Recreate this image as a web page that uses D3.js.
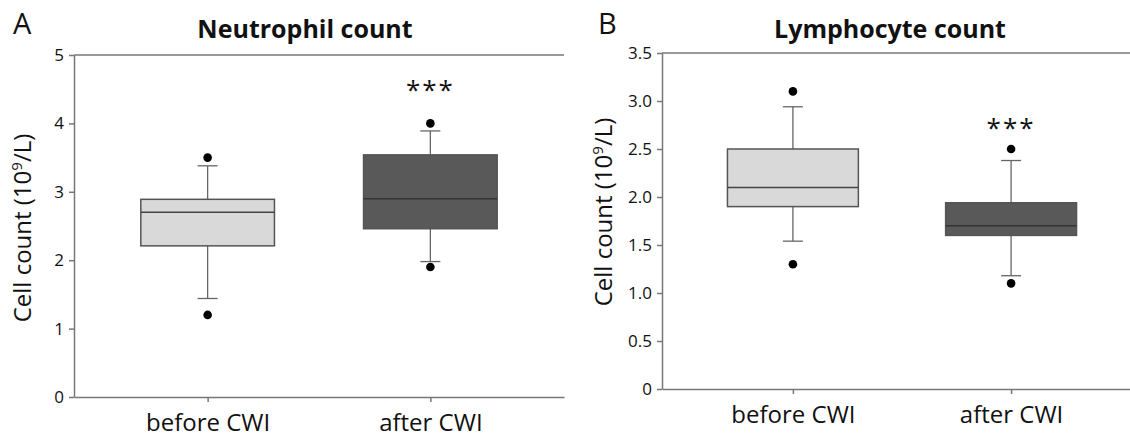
<!DOCTYPE html>
<html>
<head>
<meta charset="utf-8">
<script src="https://cdn.jsdelivr.net/npm/d3@7"></script>
<style>
  body { margin: 0; background: #fff; }
  text { font-family: "Open Sans", sans-serif; fill: #111; }
</style>
</head>
<body>
<script>
// groups on the x axis
const groups = ["before CWI", "after CWI"];

// neutrophil box stats (10^9/L)
const neutroLow = [1.44, 1.98];
const neutroQ1 = [2.21, 2.46];
const neutroMedian = [2.70, 2.90];
const neutroQ3 = [2.89, 3.54];
const neutroHigh = [3.38, 3.89];
const neutroOutliers = [[1.2, 3.5], [1.9, 4.0]];
const neutroSig = ["", "***"];
const neutroSigAt = [null, 4.56];
const neutroTicks = [0, 1, 2, 3, 4, 5];

// lymphocyte box stats (10^9/L)
const lymphoLow = [1.54, 1.18];
const lymphoQ1 = [1.90, 1.60];
const lymphoMedian = [2.10, 1.70];
const lymphoQ3 = [2.50, 1.94];
const lymphoHigh = [2.94, 2.38];
const lymphoOutliers = [[1.3, 3.1], [1.1, 2.5]];
const lymphoSig = ["", "***"];
const lymphoSigAt = [null, 2.77];
const lymphoTicks = [0, 0.5, 1, 1.5, 2, 2.5, 3, 3.5];

const fills = ["#d9d9d9", "#595959"];
const medianCol = ["#444", "#333"];
const axisCol = "#777";

const svg = d3.select("body").append("svg").attr("width", 1130).attr("height", 437);

const panel = (cfg) => {
  const g = svg.append("g");
  const y = d3.scaleLinear().domain([0, cfg.yMax]).range([cfg.bottom, cfg.top]);
  const x = d3.scalePoint().domain(groups).range([cfg.left, cfg.right]).padding(0.6);
  const boxW = x.step() * 0.6;
  const capW = 20;

  // y axis
  const ya = g.append("g").attr("transform", `translate(${cfg.left},0)`)
    .call(d3.axisLeft(y).tickValues(cfg.ticks).tickSize(5).tickSizeOuter(0).tickPadding(5)
      .tickFormat(cfg.fmt));
  ya.selectAll("path, line").attr("stroke", axisCol).attr("stroke-width", 1.5);
  ya.selectAll("text").attr("font-size", 17).attr("font-family", "Open Sans").attr("fill", "#222");

  // x axis
  const xa = g.append("g").attr("transform", `translate(0,${cfg.bottom})`)
    .call(d3.axisBottom(x).tickSize(5).tickSizeOuter(0).tickPadding(12));
  xa.selectAll("path, line").attr("stroke", axisCol).attr("stroke-width", 1.5);
  xa.selectAll("text").attr("font-size", 24).attr("font-family", "Open Sans").attr("fill", "#111");

  // top frame line
  g.append("line").attr("x1", cfg.left).attr("x2", cfg.right)
    .attr("y1", y(cfg.yMax)).attr("y2", y(cfg.yMax))
    .attr("stroke", axisCol).attr("stroke-width", 1.5);

  const d = groups.map((k, i) => ({
    k, i, low: cfg.low[i], q1: cfg.q1[i], med: cfg.med[i], q3: cfg.q3[i], high: cfg.high[i],
    out: cfg.out[i], sig: cfg.sig[i], sigAt: cfg.sigAt[i]
  }));

  const box = g.selectAll(".box").data(d).enter().append("g").classed("box", true);

  // whiskers
  box.append("line").attr("x1", b => x(b.k)).attr("x2", b => x(b.k))
    .attr("y1", b => y(b.low)).attr("y2", b => y(b.high))
    .attr("stroke", "#666").attr("stroke-width", 1.3);
  box.selectAll(".cap").data(b => [b.low, b.high].map(v => ({ k: b.k, v }))).enter()
    .append("line").classed("cap", true)
    .attr("x1", c => x(c.k) - capW / 2).attr("x2", c => x(c.k) + capW / 2)
    .attr("y1", c => y(c.v)).attr("y2", c => y(c.v))
    .attr("stroke", "#666").attr("stroke-width", 1.3);

  // box
  box.append("rect").attr("x", b => x(b.k) - boxW / 2).attr("width", boxW)
    .attr("y", b => y(b.q3)).attr("height", b => y(b.q1) - y(b.q3))
    .attr("fill", b => fills[b.i]).attr("stroke", "#555").attr("stroke-width", 1.5);

  // median
  box.append("line").attr("x1", b => x(b.k) - boxW / 2).attr("x2", b => x(b.k) + boxW / 2)
    .attr("y1", b => y(b.med)).attr("y2", b => y(b.med))
    .attr("stroke", b => medianCol[b.i]).attr("stroke-width", 1.5);

  // outliers
  box.selectAll(".dot").data(b => b.out.map(v => ({ k: b.k, v }))).enter()
    .append("circle").classed("dot", true)
    .attr("cx", o => x(o.k)).attr("cy", o => y(o.v)).attr("r", 4.3).attr("fill", "#000");

  // significance stars
  box.filter(b => b.sig).append("text")
    .attr("x", b => x(b.k)).attr("y", b => y(b.sigAt) + 14)
    .attr("text-anchor", "middle").attr("font-size", 26).attr("letter-spacing", 2)
    .text(b => b.sig);

  // title
  g.append("text").attr("x", cfg.titleX).attr("y", 38).attr("text-anchor", "middle")
    .attr("font-size", 25).attr("font-weight", "bold").text(cfg.title);

  // panel letter
  g.append("text").attr("x", cfg.letterX).attr("y", 34).attr("font-size", 29).text(cfg.letter);

  // y label
  const yl = g.append("text").attr("text-anchor", "middle")
    .attr("transform", `translate(${cfg.ylabX},${cfg.ylabY}) rotate(-90)`)
    .attr("font-size", 24);
  yl.append("tspan").text("Cell count (10");
  yl.append("tspan").attr("font-size", 15).attr("dy", -9).text("9");
  yl.append("tspan").attr("dy", 9).text("/L)");
};

const fmtB = v => v === 0 ? "0" : d3.format(".1f")(v);

panel({
  left: 74, right: 564, top: 55, bottom: 397, yMax: 5, ticks: neutroTicks, fmt: d3.format("d"),
  low: neutroLow, q1: neutroQ1, med: neutroMedian, q3: neutroQ3, high: neutroHigh,
  out: neutroOutliers, sig: neutroSig, sigAt: neutroSigAt,
  title: "Neutrophil count", titleX: 305, letter: "A", letterX: 13, ylabX: 31, ylabY: 228
});

panel({
  left: 662, right: 1142, top: 53, bottom: 389, yMax: 3.5, ticks: lymphoTicks, fmt: fmtB,
  low: lymphoLow, q1: lymphoQ1, med: lymphoMedian, q3: lymphoQ3, high: lymphoHigh,
  out: lymphoOutliers, sig: lymphoSig, sigAt: lymphoSigAt,
  title: "Lymphocyte count", titleX: 890, letter: "B", letterX: 598, ylabX: 612, ylabY: 212
});
</script>
</body>
</html>
